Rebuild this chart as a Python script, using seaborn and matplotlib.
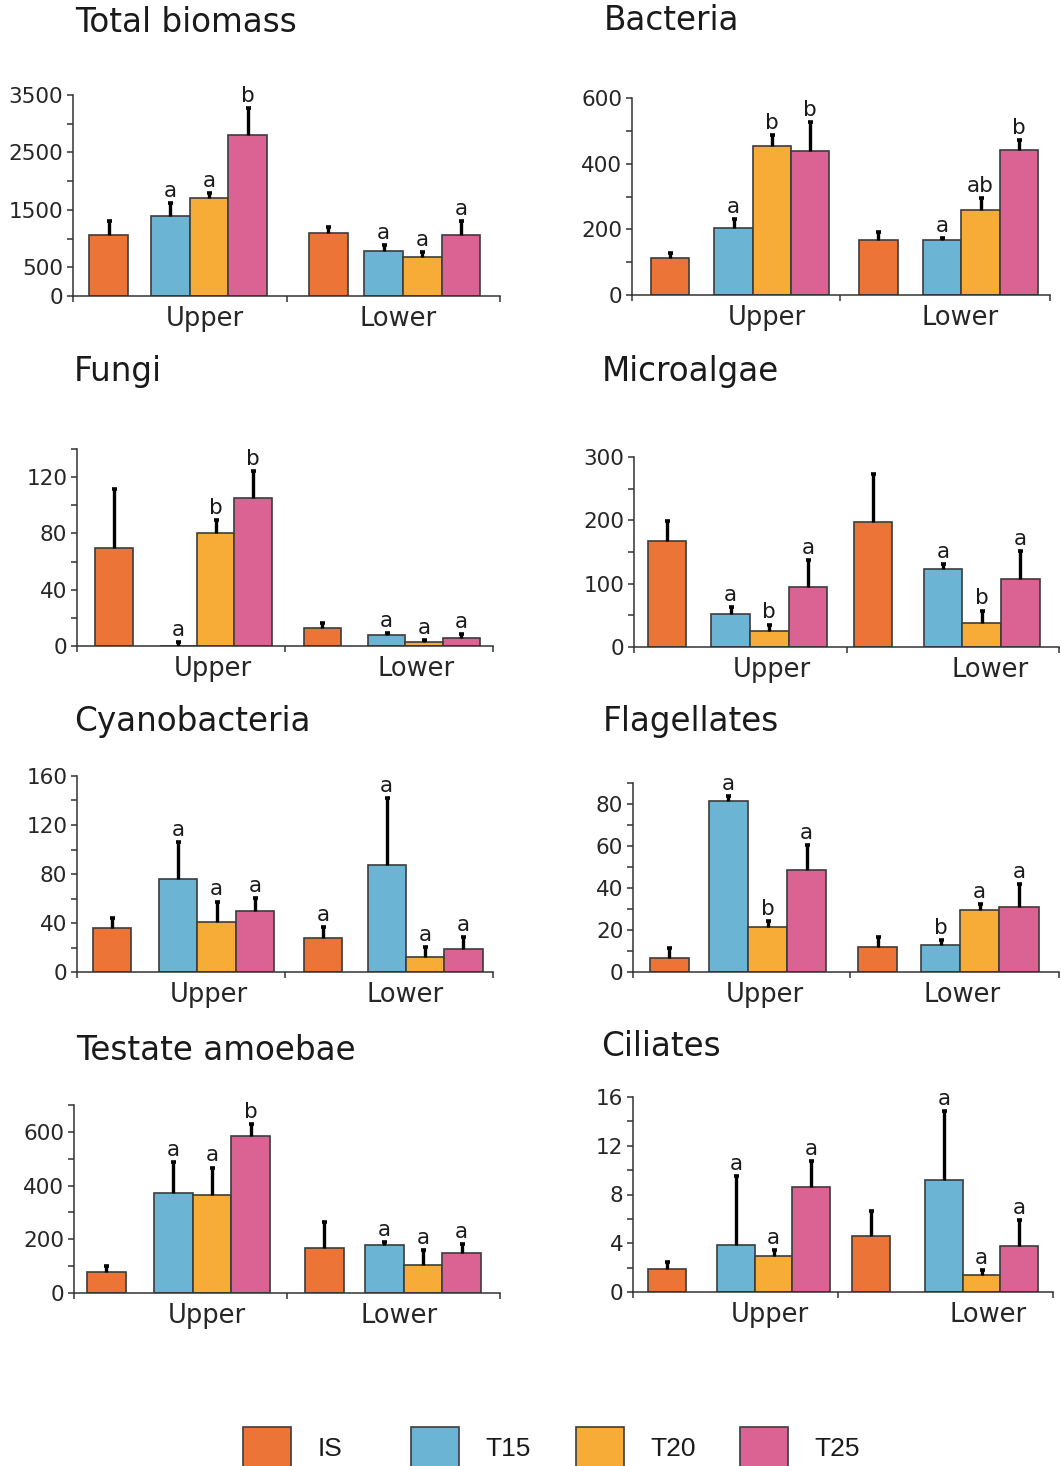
import numpy as np
import pandas as pd
import matplotlib
matplotlib.use('Agg')
import matplotlib.pyplot as plt
from matplotlib.patches import Patch
import seaborn as sns

# treatments and layers
treatments = ['IS', 'T15', 'T20', 'T25']
layers = ['Upper', 'Lower']
colors = ['#EC7436', '#6CB4D4', '#F6AC36', '#DB6394']

# values in order: Upper IS, T15, T20, T25, Lower IS, T15, T20, T25
total_mean = [1055, 1400, 1700, 2800, 1100, 785, 685, 1055]
total_se = [250, 215, 100, 480, 95, 105, 75, 250]
total_letters = ['', 'a', 'a', 'b', '', 'a', 'a', 'a']

bact_mean = [112, 205, 455, 440, 167, 167, 259, 443]
bact_se = [17, 27, 33, 87, 25, 6, 36, 28]
bact_letters = ['', 'a', 'b', 'b', '', 'a', 'ab', 'b']

fungi_mean = [70, 0, 80, 105, 13, 7.5, 2.8, 5.7]
fungi_se = [41.5, 3, 9.5, 19.5, 3.5, 2, 1.2, 2.6]
fungi_letters = ['', 'a', 'b', 'b', '', 'a', 'a', 'a']

algae_mean = [168, 52, 25, 95, 198, 123, 38, 108]
algae_se = [31, 11, 10.5, 43, 75, 7.5, 19.5, 44]
algae_letters = ['', 'a', 'b', 'a', '', 'a', 'b', 'a']

cyano_mean = [36, 76, 40.5, 49.7, 27.4, 87.7, 12.2, 18.7]
cyano_se = [8, 30, 17, 11, 9.5, 54, 8, 10]
cyano_letters = ['', 'a', 'a', 'a', 'a', 'a', 'a', 'a']

flag_mean = [6.5, 81.3, 21.6, 48.8, 11.8, 12.9, 29.6, 31]
flag_se = [4.8, 2.7, 2.7, 11.8, 4.9, 2.5, 2.8, 11]
flag_letters = ['', 'a', 'b', 'a', '', 'b', 'a', 'a']

testate_mean = [80, 374, 366, 585, 167, 180, 105, 149]
testate_se = [21, 112, 101, 44, 97, 8.5, 54, 32]
testate_letters = ['', 'a', 'a', 'b', '', 'a', 'a', 'a']

cil_mean = [1.91, 3.86, 2.98, 8.64, 4.57, 9.16, 1.37, 3.77]
cil_se = [0.55, 5.66, 0.44, 2.11, 2.08, 5.69, 0.46, 2.16]
cil_letters = ['', 'a', 'a', 'a', '', 'a', 'a', 'a']

W, H = 1061, 1466
EDGE = '#3c3c3c'

# title, mean, se, letters, ymax, major, minor, (left, right, top, bottom) px,
# (IS up, T15 up, separator, IS low, T15 low, xmax), label positions, title xy
panels = [
    ('Total biomass', total_mean, total_se, total_letters, 3500,
     [0, 500, 1500, 2500, 3500], [1000, 2000, 3000],
     (73, 500, 95, 296), (0.92, 2.52, 5.53, 6.61, 8.04, 11.05), (3.4, 8.42), (75, 22)),
    ('Bacteria', bact_mean, bact_se, bact_letters, 600,
     [0, 200, 400, 600], [100, 300, 500],
     (632, 1050, 98, 295), (1.0, 2.65, 5.43, 6.43, 8.1, 10.91), (3.52, 8.57), (604, 20)),
    ('Fungi', fungi_mean, fungi_se, fungi_letters, 140,
     [0, 40, 80, 120], [20, 60, 100, 140],
     (77, 493, 449, 646), (0.99, 2.71, 5.56, 6.57, 8.29, 11.14), (3.64, 9.07), (74, 371)),
    ('Microalgae', algae_mean, algae_se, algae_letters, 300,
     [0, 100, 200, 300], [50, 150, 250],
     (634, 1059, 457, 647), (0.85, 2.5, 5.52, 6.19, 8.0, 11.0), (3.56, 9.22), (602, 371)),
    ('Cyanobacteria', cyano_mean, cyano_se, cyano_letters, 160,
     [0, 40, 80, 120, 160], [20, 60, 100, 140],
     (77, 493, 776, 972), (0.91, 2.64, 5.42, 6.42, 8.08, 10.85), (3.43, 8.57), (74, 722)),
    ('Flagellates', flag_mean, flag_se, flag_letters, 90,
     [0, 20, 40, 60, 80], [10, 30, 50, 70, 90],
     (633, 1059, 783, 972), (0.93, 2.43, 5.53, 6.24, 7.84, 10.86), (3.36, 8.38), (603, 722)),
    ('Testate amoebae', testate_mean, testate_se, testate_letters, 700,
     [0, 200, 400, 600], [100, 300, 500, 700],
     (74, 500, 1105, 1293), (0.84, 2.57, 5.5, 6.48, 8.03, 11.02), (3.43, 8.41), (76, 1050)),
    ('Ciliates', cil_mean, cil_se, cil_letters, 16,
     [0, 4, 8, 12, 16], [2, 6, 10, 14],
     (633, 1053, 1097, 1292), (0.91, 2.74, 5.46, 6.33, 8.27, 11.17), (3.65, 9.44), (601, 1047)),
]

sns.set_style('ticks')
plt.rcParams['font.family'] = ['DejaVu Sans']
plt.rcParams['text.color'] = '#1a1a1a'

fig = plt.figure(figsize=(W / 100, H / 100), dpi=100)
palette = dict(zip(treatments, colors))

for title, mean, se, letters, ymax, major, minor, box, xp, labpos, tpos in panels:
    left, right, top, bottom = box
    ax = fig.add_axes([left / W, 1 - bottom / H, (right - left) / W, (bottom - top) / H])
    is_u, t_u, sep, is_l, t_l, xmax = xp
    pos = [is_u, t_u, t_u + 1, t_u + 2, is_l, t_l, t_l + 1, t_l + 2]
    df = pd.DataFrame({'pos': pos, 'value': mean, 'treatment': treatments * 2})
    sns.barplot(data=df, x='pos', y='value', hue='treatment', hue_order=treatments,
                palette=palette, saturation=1, native_scale=True, width=1.0, dodge=False,
                errorbar=None, edgecolor=EDGE, linewidth=1.2, legend=False, ax=ax)
    # upper-only error bars
    eb = ax.errorbar(pos, mean, yerr=[np.zeros(len(se)), se], fmt='none', ecolor='black',
                     elinewidth=2.4, capsize=1.8, capthick=2.6, zorder=5)
    eb[1][0].set_visible(False)
    for x, m, s, lab in zip(pos, mean, se, letters):
        if lab:
            ax.annotate(lab, (x, m + s), xytext=(0, 1.5), textcoords='offset points',
                        ha='center', va='bottom', fontsize=15.5)

    ax.set_xlim(0, xmax)
    ax.set_ylim(0, ymax)
    ax.set_xlabel('')
    ax.set_ylabel('')
    ax.set_yticks(major)
    ax.set_yticks(minor, minor=True)
    ax.tick_params(axis='y', which='both', length=4, width=1.1, color='#333333',
                   labelsize=15.5, pad=3)
    ax.set_xticks(list(labpos))
    ax.set_xticklabels(layers)
    ax.set_xticks([0, sep, xmax], minor=True)
    ax.tick_params(axis='x', which='major', length=0, labelsize=18.5, pad=7)
    ax.tick_params(axis='x', which='minor', length=4, width=1.1, color='#333333')
    for side in ['top', 'right']:
        ax.spines[side].set_visible(False)
    for side in ['left', 'bottom']:
        ax.spines[side].set_color('#333333')
        ax.spines[side].set_linewidth(1.1)
    ax.patch.set_alpha(0)

    fig.text(tpos[0] / W, 1 - tpos[1] / H, title, fontsize=23.5, va='center', ha='left')

# legend along the bottom
legend_x = [243, 411, 576, 740]
for name, col, lx in zip(treatments, colors, legend_x):
    fig.legend(handles=[Patch(facecolor=col, edgecolor=EDGE, linewidth=1.2)], labels=[name],
               loc='center left', bbox_to_anchor=(lx / W, 1 - 1448 / H), frameon=False,
               handlelength=1.82, handleheight=2.1, handletextpad=1.0, borderpad=0,
               borderaxespad=0, prop={'family': 'Liberation Sans', 'size': 19})

fig.savefig('out.png', dpi=100)
